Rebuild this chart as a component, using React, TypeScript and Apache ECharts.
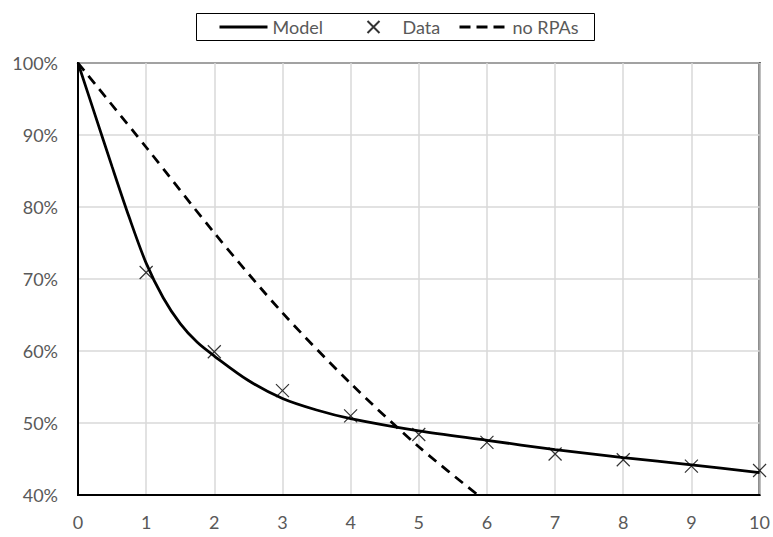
import React, { useEffect, useRef } from "react";
import * as echarts from "echarts";

const xTicksMin = 0;
const xTicksMax = 10;
const yTicksMin = 40;
const yTicksMax = 100;

const modelX = [0, 0.25, 0.5, 0.75, 1, 1.25, 1.5, 1.75, 2, 2.5, 3, 3.5, 4, 5, 6, 7, 8, 9, 10];
const modelY = [100, 92.8, 85.6, 78.6, 72.2, 67.4, 63.8, 61.2, 59.3, 55.9, 53.4, 51.8, 50.6, 48.9, 47.6, 46.3, 45.2, 44.2, 43.1];

const dataX = [1, 2, 3, 4, 5, 6, 7, 8, 9, 10];
const dataY = [70.9, 59.9, 54.5, 51.0, 48.4, 47.3, 45.7, 44.9, 44.0, 43.4];

const noRpaX = [0, 1, 2, 3, 4, 5, 6];
const noRpaY = [100, 88.3, 76.4, 65.3, 55.5, 46.7, 39.0];

const FONT = "Lato, 'Open Sans', sans-serif";
const GRAY = "#595959";

export default function App() {
  const ref = useRef<HTMLDivElement>(null);
  useEffect(() => {
    if (!ref.current) return;
    const chart = echarts.init(ref.current, undefined, { renderer: "svg" });
    const zip = (xs: number[], ys: number[]) => xs.map((x, i) => [x, ys[i]]);
    const legendBase = {
      top: 18,
      padding: 0,
      itemWidth: 48,
      itemHeight: 14,
      textStyle: { fontFamily: FONT, fontSize: 18, color: GRAY },
    };
    chart.setOption({
      animation: false,
      backgroundColor: "#fff",
      textStyle: { fontFamily: FONT },
      legend: [
        {
          ...legendBase,
          left: 218,
          data: [{ name: "Model", itemStyle: { opacity: 0 }, lineStyle: { width: 3 } }],
        },
        {
          ...legendBase,
          left: 347,
          data: [
            {
              name: "Data",
              icon: "path://M0,6L0.01,6M18,0L30,12M30,0L18,12M48,6L47.99,6",
            },
          ],
        },
        {
          ...legendBase,
          left: 458,
          data: [{ name: "no RPAs", itemStyle: { opacity: 0 }, lineStyle: { width: 3, type: [11, 6] } }],
        },
      ],
      graphic: [
        {
          type: "rect",
          shape: { x: 196.5, y: 13.5, width: 398, height: 27 },
          style: { fill: "none", stroke: "#000", lineWidth: 1 },
          silent: true,
        },
      ],
      grid: {
        left: 78,
        right: 12,
        top: 63,
        bottom: 42,
        show: true,
        borderColor: "#000",
        borderWidth: 2,
        containLabel: false,
      },
      xAxis: {
        type: "value",
        min: xTicksMin,
        max: xTicksMax,
        interval: 1,
        axisLine: { show: true, lineStyle: { color: "#000", width: 2 } },
        axisTick: { show: false },
        axisLabel: { color: GRAY, fontSize: 18, fontFamily: FONT, margin: 18 },
        splitLine: { show: true, lineStyle: { color: "#d9d9d9", width: 1.5 } },
      },
      yAxis: {
        type: "value",
        min: yTicksMin,
        max: yTicksMax,
        interval: 10,
        axisLine: { show: true, lineStyle: { color: "#000", width: 2 } },
        axisTick: { show: false },
        axisLabel: { color: GRAY, fontSize: 18, fontFamily: FONT, margin: 20, formatter: "{value}%" },
        splitLine: { show: true, lineStyle: { color: "#d9d9d9", width: 1.5 } },
      },
      series: [
        {
          name: "Model",
          type: "line",
          data: zip(modelX, modelY),
          smooth: 0.3,
          symbol: "none",
          lineStyle: { color: "#000", width: 2.75 },
          itemStyle: { color: "#000" },
          z: 3,
        },
        {
          name: "Data",
          type: "scatter",
          data: zip(dataX, dataY),
          symbol: "path://M0,0L10,10M10,0L0,10",
          symbolSize: 13,
          itemStyle: { color: "none", borderColor: "#000", borderWidth: 1.2 },
          z: 4,
        },
        {
          name: "no RPAs",
          type: "line",
          data: zip(noRpaX, noRpaY),
          smooth: 0.3,
          symbol: "none",
          clip: true,
          lineStyle: { color: "#000", width: 2.75, type: [10, 7] },
          itemStyle: { color: "#000" },
          z: 3,
        },
      ],
    });
    return () => chart.dispose();
  }, []);
  return <div ref={ref} style={{ width: 773, height: 537, position: "absolute", left: 0, top: 0 }} />;
}
